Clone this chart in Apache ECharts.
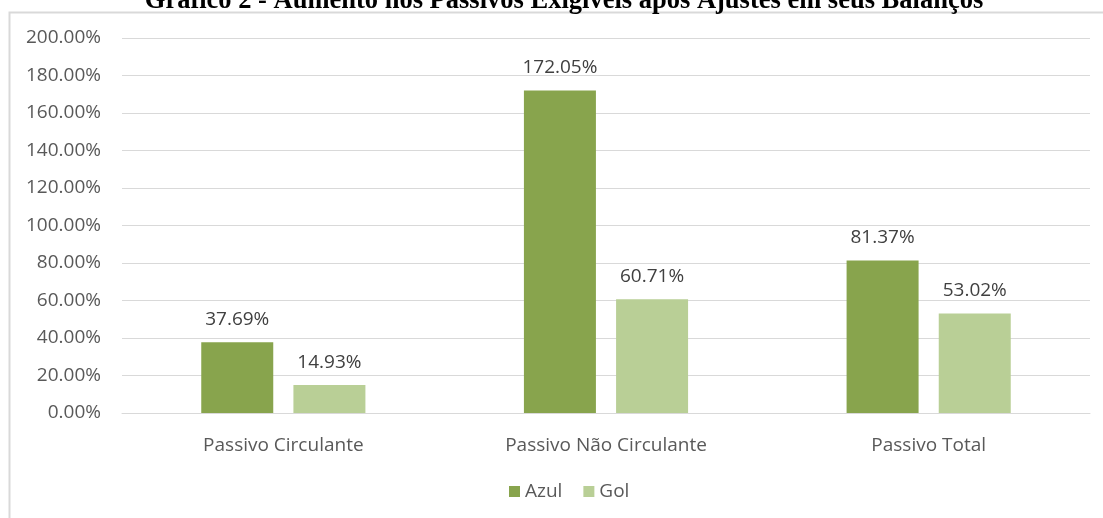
<!DOCTYPE html>
<html><head><meta charset="utf-8">
<script src="https://cdn.jsdelivr.net/npm/echarts@6/dist/echarts.min.js"></script>
<style>html,body{margin:0;padding:0;background:#fff}#c{width:1103px;height:518px}</style>
</head><body><div id="c"></div>
<script>
const categories = ["Passivo Circulante", "Passivo Não Circulante", "Passivo Total"];
const azul = [37.69, 172.05, 81.37];
const gol = [14.93, 60.71, 53.02];
const titleText = "Gráfico 2 - Aumento nos Passivos Exigíveis após Ajustes em seus Balanços";
const font = "'Open Sans', 'Noto Sans', sans-serif";
const chart = echarts.init(document.getElementById('c'));
const lbl = {show:true, position:'top', distance:13, color:'#404040', fontSize:19, fontFamily:font,
  formatter: p => p.value.toFixed(2) + '%'};
chart.setOption({
  animation:false,
  title:{text:titleText, left:559, textAlign:'center', top:-17, textStyle:{fontFamily:"'Liberation Serif','DejaVu Serif',serif", fontWeight:'bold', fontSize:26.5, color:'#000'}},
  graphic:[{type:'rect', shape:{x:9.5, y:12.5, width:1200, height:600}, style:{fill:null, stroke:'#d9d9d9', lineWidth:2}, z:-1}],
  grid:{left:122, right:13, top:38, bottom:105},
  xAxis:{type:'category', data:categories, axisTick:{show:false},
    axisLine:{lineStyle:{color:'#d9d9d9', width:1}},
    axisLabel:{color:'#595959', fontSize:19, fontFamily:font, margin:23}},
  yAxis:{type:'value', min:0, max:200, interval:20,
    axisLabel:{color:'#595959', fontSize:19, fontFamily:font, margin:21, formatter:v=>v.toFixed(2)+'%'},
    splitLine:{lineStyle:{color:'#d9d9d9', width:1}}, axisLine:{show:false}, axisTick:{show:false}},
  legend:{data:['Azul','Gol'], bottom:12, left:504, icon:'rect', itemWidth:11, itemHeight:11, itemGap:21,
    textStyle:{color:'#595959', fontSize:19, fontFamily:font}},
  series:[
    {name:'Azul', type:'bar', data:azul, barWidth:72, barGap:'28%', itemStyle:{color:'#88a44d'}, label:lbl},
    {name:'Gol', type:'bar', data:gol, barWidth:72, itemStyle:{color:'#b9cf96'}, label:lbl}
  ]
});
</script></body></html>
